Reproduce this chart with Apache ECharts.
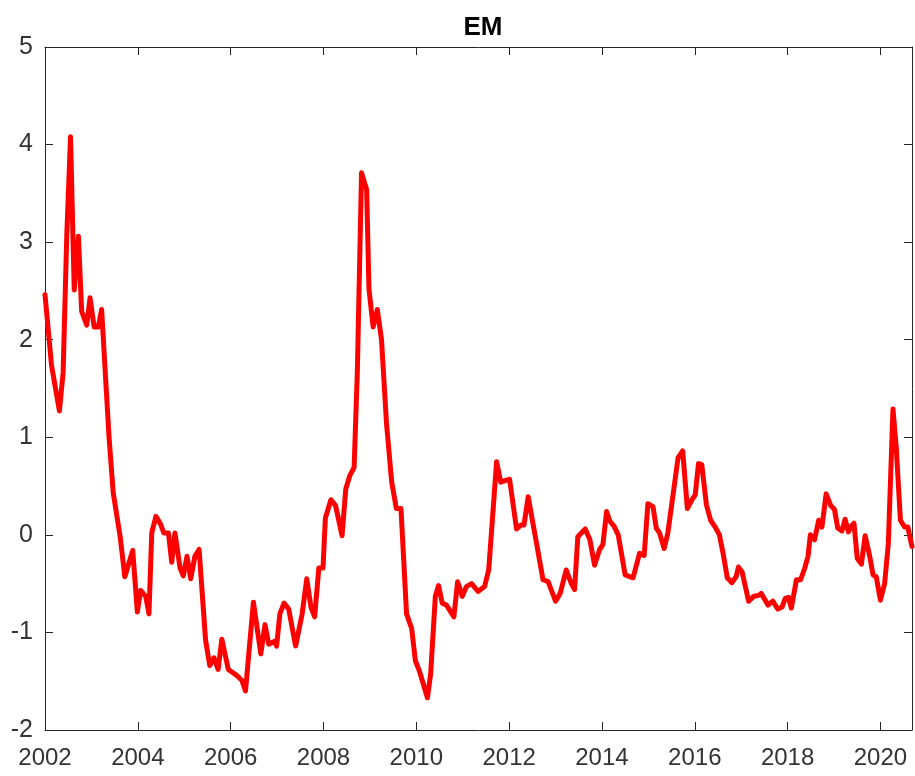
<!DOCTYPE html>
<html>
<head>
<meta charset="utf-8">
<script src="https://cdn.jsdelivr.net/npm/echarts@6/dist/echarts.min.js"></script>
<style>
  html, body { margin: 0; padding: 0; background: #fff; }
  #chart { width: 915px; height: 776px; }
</style>
</head>
<body>
<div id="chart"></div>
<script>
// decimal year of each point
var dates = [
  2002.00, 2002.14, 2002.31, 2002.39, 2002.47, 2002.55, 2002.63, 2002.72, 2002.79, 2002.90,
  2002.97, 2003.06, 2003.15, 2003.22, 2003.38, 2003.47, 2003.62, 2003.72, 2003.89, 2003.99,
  2004.06, 2004.17, 2004.24, 2004.30, 2004.39, 2004.49, 2004.56, 2004.66, 2004.73, 2004.80,
  2004.91, 2004.98, 2005.06, 2005.14, 2005.23, 2005.32, 2005.46, 2005.55, 2005.64, 2005.73,
  2005.81, 2005.95, 2006.13, 2006.24, 2006.32, 2006.49, 2006.65, 2006.74, 2006.82, 2006.95,
  2006.99, 2007.06, 2007.15, 2007.25, 2007.40, 2007.54, 2007.64, 2007.73, 2007.81, 2007.90,
  2007.99, 2008.04, 2008.16, 2008.26, 2008.40, 2008.48, 2008.57, 2008.66, 2008.73, 2008.82,
  2008.93, 2008.98, 2009.07, 2009.16, 2009.25, 2009.36, 2009.47, 2009.57, 2009.67, 2009.79,
  2009.90, 2009.98, 2010.07, 2010.24, 2010.31, 2010.41, 2010.48, 2010.56, 2010.65, 2010.81,
  2010.89, 2010.99, 2011.08, 2011.19, 2011.33, 2011.47, 2011.56, 2011.73, 2011.82, 2012.01,
  2012.16, 2012.25, 2012.32, 2012.41, 2012.55, 2012.73, 2012.84, 2013.00, 2013.10, 2013.23,
  2013.34, 2013.41, 2013.48, 2013.64, 2013.74, 2013.84, 2013.95, 2014.02, 2014.10, 2014.17,
  2014.26, 2014.35, 2014.50, 2014.67, 2014.81, 2014.91, 2014.99, 2015.10, 2015.17, 2015.24,
  2015.34, 2015.42, 2015.64, 2015.74, 2015.84, 2015.94, 2016.01, 2016.08, 2016.15, 2016.25,
  2016.34, 2016.44, 2016.53, 2016.61, 2016.70, 2016.80, 2016.89, 2016.94, 2017.02, 2017.16,
  2017.27, 2017.38, 2017.43, 2017.58, 2017.68, 2017.79, 2017.88, 2017.95, 2018.02, 2018.08,
  2018.19, 2018.28, 2018.37, 2018.44, 2018.49, 2018.58, 2018.67, 2018.74, 2018.83, 2018.93,
  2019.01, 2019.08, 2019.17, 2019.24, 2019.31, 2019.36, 2019.43, 2019.50, 2019.59, 2019.67,
  2019.77, 2019.84, 2019.91, 2020.00, 2020.09, 2020.17, 2020.27, 2020.34, 2020.43, 2020.52,
  2020.59, 2020.68
];

var emValues = [
  2.46, 1.74, 1.27, 1.66, 3.08, 4.08, 2.51, 3.06, 2.29, 2.15,
  2.43, 2.13, 2.13, 2.31, 1.00, 0.43, -0.02, -0.43, -0.16, -0.79,
  -0.57, -0.63, -0.81, 0.02, 0.19, 0.11, 0.02, 0.02, -0.28, 0.02,
  -0.34, -0.42, -0.22, -0.45, -0.22, -0.15, -1.08, -1.34, -1.26, -1.38,
  -1.07, -1.38, -1.44, -1.49, -1.60, -0.69, -1.22, -0.92, -1.12, -1.09,
  -1.14, -0.81, -0.70, -0.76, -1.14, -0.81, -0.45, -0.74, -0.84, -0.34,
  -0.34, 0.17, 0.36, 0.30, -0.01, 0.47, 0.61, 0.69, 1.68, 3.71,
  3.54, 2.52, 2.13, 2.31, 2.00, 1.13, 0.54, 0.27, 0.27, -0.81,
  -0.96, -1.29, -1.40, -1.67, -1.42, -0.63, -0.52, -0.70, -0.72, -0.84,
  -0.48, -0.63, -0.53, -0.50, -0.58, -0.53, -0.36, 0.75, 0.54, 0.57,
  0.06, 0.10, 0.10, 0.39, 0.02, -0.46, -0.48, -0.68, -0.60, -0.36,
  -0.50, -0.56, -0.02, 0.06, -0.05, -0.31, -0.15, -0.10, 0.24, 0.14,
  0.09, 0.00, -0.41, -0.44, -0.19, -0.21, 0.32, 0.29, 0.07, 0.02,
  -0.14, 0.02, 0.79, 0.86, 0.27, 0.36, 0.41, 0.73, 0.72, 0.31,
  0.15, 0.08, 0.00, -0.19, -0.44, -0.49, -0.43, -0.33, -0.38, -0.68,
  -0.63, -0.62, -0.60, -0.72, -0.68, -0.76, -0.74, -0.65, -0.64, -0.75,
  -0.46, -0.46, -0.34, -0.22, 0.00, -0.05, 0.15, 0.08, 0.42, 0.30,
  0.26, 0.07, 0.04, 0.16, 0.03, 0.08, 0.12, -0.24, -0.30, -0.01,
  -0.22, -0.41, -0.43, -0.67, -0.50, -0.09, 1.29, 0.90, 0.15, 0.08,
  0.08, -0.12
];

var yearTicks = [2002, 2004, 2006, 2008, 2010, 2012, 2014, 2016, 2018, 2020];

var chart = echarts.init(document.getElementById('chart'));

var seriesData = [];
for (var i = 0; i < dates.length; i++) {
  seriesData.push([dates[i], emValues[i]]);
}

var axisColor = '#262626';
var font = 'Liberation Sans, Arial, Helvetica, sans-serif';

var xBase = {
  type: 'value',
  min: 2002,
  max: 2020.68,
  interval: 2,
  splitLine: { show: false },
  axisLine: { show: true, onZero: false, lineStyle: { color: axisColor, width: 1 } },
  axisTick: { show: true, inside: true, length: 8, lineStyle: { color: axisColor } }
};
var yBase = {
  type: 'value',
  min: -2,
  max: 5,
  interval: 1,
  splitLine: { show: false },
  axisLine: { show: true, onZero: false, lineStyle: { color: axisColor, width: 1 } },
  axisTick: { show: true, inside: true, length: 8, lineStyle: { color: axisColor } }
};

chart.setOption({
  backgroundColor: '#ffffff',
  animation: false,
  title: {
    text: 'EM',
    left: 478,
    top: 10,
    textAlign: 'center',
    textStyle: { fontFamily: font, fontWeight: 'bold', fontSize: 26, color: '#000' }
  },
  grid: { left: 45, right: 3, top: 47, bottom: 46, containLabel: false },
  xAxis: [
    Object.assign({}, xBase, {
      position: 'bottom',
      axisLabel: {
        color: '#333333', fontFamily: font, fontSize: 24, margin: 16,
        showMaxLabel: false,
        formatter: function (v) { return yearTicks.indexOf(v) >= 0 ? String(v) : ''; }
      }
    }),
    Object.assign({}, xBase, { position: 'top', axisLabel: { show: false } })
  ],
  yAxis: [
    Object.assign({}, yBase, {
      position: 'left',
      axisLabel: { color: '#333333', fontFamily: font, fontSize: 25, margin: 12 }
    }),
    Object.assign({}, yBase, { position: 'right', axisLabel: { show: false } })
  ],
  series: [
    {
      name: 'EM',
      type: 'line',
      xAxisIndex: 0,
      yAxisIndex: 0,
      data: seriesData,
      showSymbol: false,
      smooth: false,
      lineStyle: { color: '#ff0000', width: 5, join: 'round', cap: 'round' }
    }
  ]
});
</script>
</body>
</html>
